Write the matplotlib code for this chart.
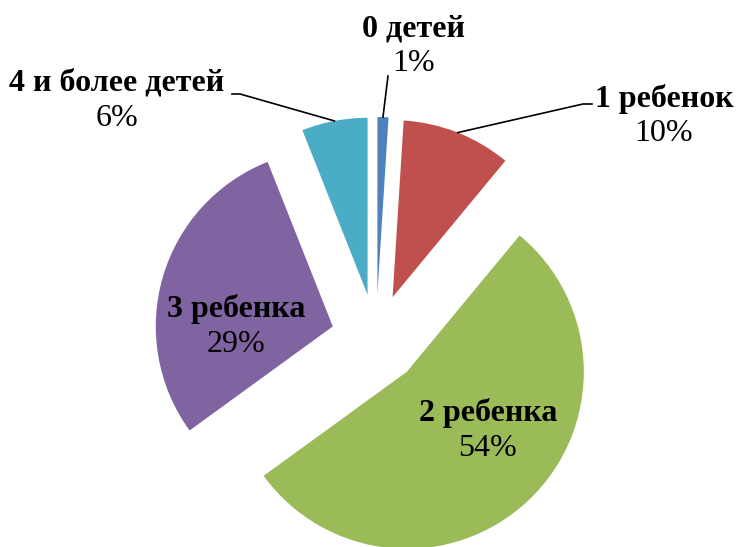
import numpy as np
import matplotlib.pyplot as plt

# data
categories = ['0 детей', '1 ребенок', '2 ребенка', '3 ребенка', '4 и более детей']
shares = [1, 10, 54, 29, 6]
colors = ['#4F81BD', '#C0504D', '#9BBB59', '#8064A2', '#4BACC6']

W, H = 736, 547
center = (376, H - 339)
radius = 177
gap = 45  # explode distance, same units as radius

plt.rcParams['font.family'] = ['Liberation Serif', 'DejaVu Serif']

fig = plt.figure(figsize=(W / 100, H / 100), dpi=100)
ax = fig.add_axes([0, 0, 1, 1])

wedges, _ = ax.pie(shares, colors=colors, startangle=90, counterclock=False,
                   center=center, radius=radius,
                   explode=[gap] * len(shares),
                   wedgeprops=dict(linewidth=0))

# pie() sets its own limits, so put ours back afterwards
ax.set_xlim(0, W)
ax.set_ylim(0, H)
ax.set_aspect('equal')
ax.axis('off')

# label placement (text centre in pixels, y measured from the top)
label_pos = {
    '0 детей': (414, 46),
    '1 ребенок': (664, 116),
    '2 ребенка': (488, 431),
    '3 ребенка': (236, 327),
    '4 и более детей': (117, 101),
}
# leader line end points (pixels from top-left)
leaders = {
    '0 детей': [(388, 76)],
    '1 ребенок': [(583, 104), (592, 104)],
    '4 и более детей': [(240, 94), (232, 94)],
}

fs = 23
for w, name, val in zip(wedges, categories, shares):
    tx, ty = label_pos[name]
    ty = H - ty
    ax.text(tx, ty + 17.5, name, ha='center', va='center', fontsize=fs,
            fontweight='bold')
    ax.text(tx, ty - 17.5, f'{val}%', ha='center', va='center', fontsize=fs)
    if name in leaders:
        mid = np.deg2rad((w.theta1 + w.theta2) / 2)
        cx, cy = w.center
        xs = [cx + radius * np.cos(mid)] + [p[0] for p in leaders[name]]
        ys = [cy + radius * np.sin(mid)] + [H - p[1] for p in leaders[name]]
        ax.plot(xs, ys, color='black', linewidth=1.2)

fig.savefig('out.png', dpi=100)
